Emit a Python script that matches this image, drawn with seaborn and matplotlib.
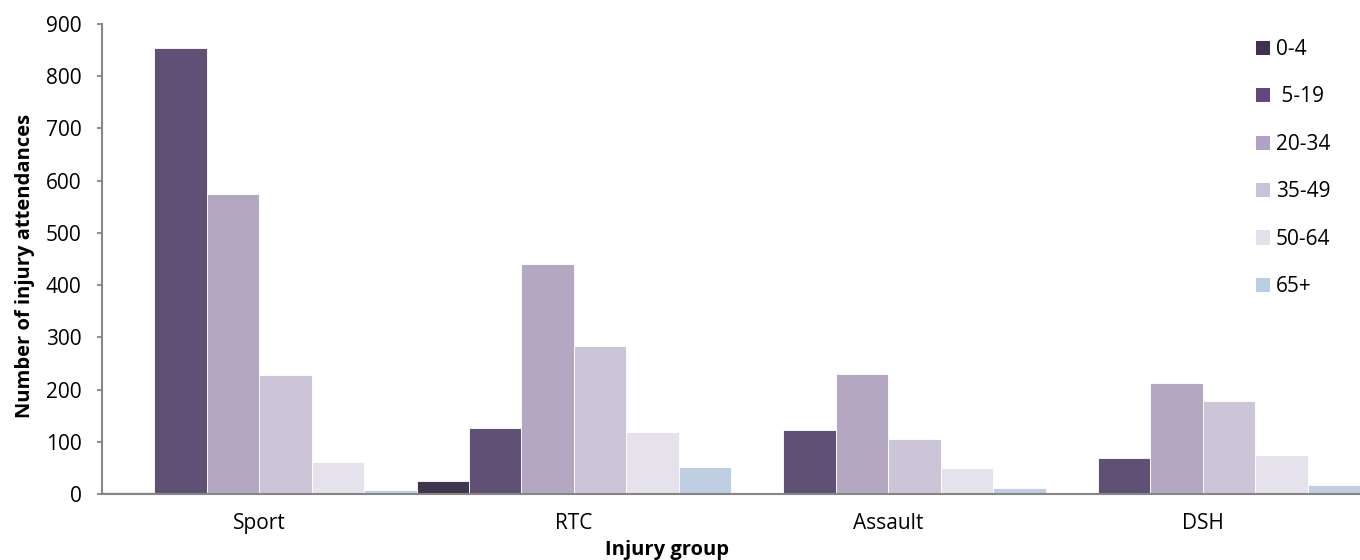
import matplotlib
matplotlib.use("Agg")
import matplotlib.pyplot as plt
from matplotlib.patches import Patch
import seaborn as sns
import pandas as pd

groups = ["Sport", "RTC", "Assault", "DSH"]
ages = ["0-4", " 5-19", "20-34", "35-49", "50-64", "65+"]
v_0_4 = [3, 24, 0, 0]
v_5_19 = [854, 126, 122, 68]
v_20_34 = [575, 440, 230, 212]
v_35_49 = [227, 283, 105, 178]
v_50_64 = [62, 118, 49, 74]
v_65p = [8, 51, 11, 18]
colors = ["#403152", "#604A7B", "#B3A2C7", "#CCC1DA", "#E6E0EC", "#B9CDE5"]
yticks = [0, 100, 200, 300, 400, 500, 600, 700, 800, 900]

series = [v_0_4, v_5_19, v_20_34, v_35_49, v_50_64, v_65p]
rows = []
for age, vals in zip(ages, series):
    for g, v in zip(groups, vals):
        rows.append({"group": g, "age": age, "value": v})
df = pd.DataFrame(rows)

sns.set_theme(style="white")
plt.rcParams['font.family'] = ['Open Sans', 'DejaVu Sans']
plt.rcParams['text.color'] = 'black'
plt.rcParams['axes.labelcolor'] = 'black'

fig = plt.figure(figsize=(13.6, 5.6), dpi=100)
ax = fig.add_axes([102/1360, 1 - 494/560, 1 - 102/1360, (494 - 24)/560])

sns.barplot(data=df, x="group", y="value", hue="age", order=groups,
            hue_order=ages, palette=colors, width=1.0, gap=0,
            linewidth=0.6, edgecolor="white", ax=ax, legend=False)

ax.set_xlim(-0.5, 3.5)
ax.set_ylim(0, 900)
ax.set_yticks(yticks)
ax.set_yticklabels([str(t) for t in yticks])
ax.tick_params(axis="x", length=0, labelsize=15, pad=14, labelcolor="black")
ax.tick_params(axis="y", length=3.6, width=1.3, color="#868686", left=True,
               pad=11, labelsize=15, labelcolor="black")
for s in ["top", "right"]:
    ax.spines[s].set_visible(False)
for s in ["left", "bottom"]:
    ax.spines[s].set_color("#868686")
    ax.spines[s].set_linewidth(1.5)

ax.set_xlabel("Injury group", fontsize=14.5, fontweight="bold")
ax.xaxis.set_label_coords((667 - 102) / 1258, -(555 - 494) / 470)
ax.xaxis.label.set_va("baseline")
ax.set_ylabel("Number of injury attendances", fontsize=14.5, fontweight="bold")
ax.yaxis.set_label_coords((25 - 102) / 1258, (494 - 266) / 470)
ax.yaxis.label.set_va("center")

handles = [Patch(facecolor=c, edgecolor="none", label=a) for c, a in zip(colors, ages)]
ax.legend(handles=handles, loc="upper left",
          bbox_to_anchor=((1256 - 102) / 1258, (494 - 39) / 470),
          frameon=False, fontsize=15, handlelength=0.67, handleheight=0.67,
          handletextpad=0.29, labelspacing=1.27, borderaxespad=0, borderpad=0)

fig.savefig("out.png", dpi=100)
